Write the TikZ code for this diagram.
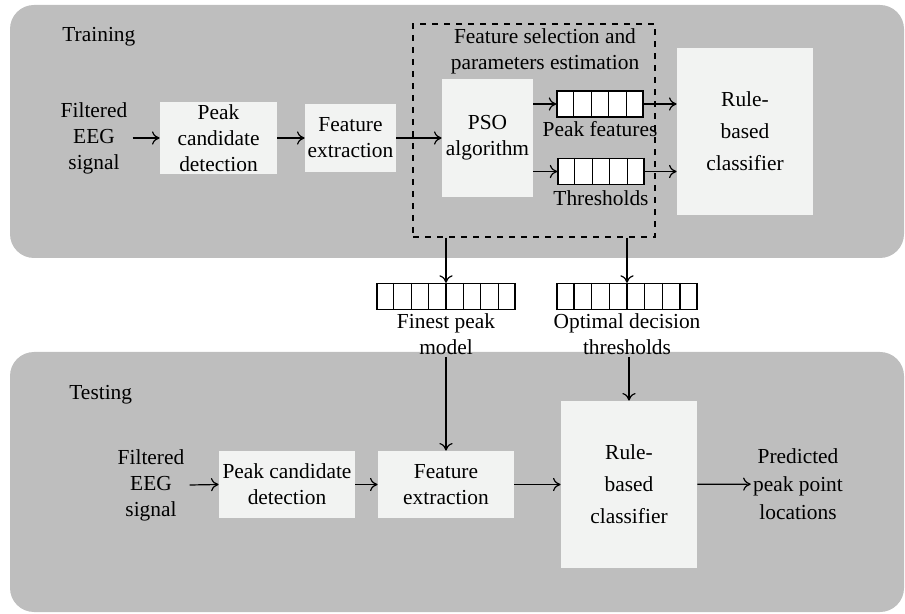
\documentclass[tikz,border=0pt]{standalone}
\usepackage{fontspec}
\setmainfont{Liberation Serif}
\usepackage{tikz}
\usetikzlibrary{positioning,calc,arrows.meta}
\definecolor{panelgray}{RGB}{190,190,190}
\definecolor{boxgray}{RGB}{242,243,242}

\begin{document}
\begin{tikzpicture}[x=0.5pt,y=-0.5pt,
   font=\fontsize{10.7}{13}\selectfont,
   block/.style={fill=boxgray,draw=none,align=center,inner sep=1pt},
   txt/.style={align=center,inner sep=1pt},
   reg/.style={draw,fill=white,line width=0.6pt,inner sep=0pt,minimum height=13pt},
   arr/.style={-{Computer Modern Rightarrow[length=3.8pt,width=6.6pt,line width=0.6pt]},line width=0.6pt}]
   \useasboundingbox (0,0) rectangle (905,614);
   % Panels
   \fill[panelgray,rounded corners=12pt] (10,5) rectangle (904,258);
   \fill[panelgray,rounded corners=12pt] (10,352) rectangle (904,612);
   \node[txt,anchor=west] (train) at (60,37) {Training};
   \node[txt,anchor=west] (test) at (67,395) {Testing};
   % Training
   \node[txt] (in1) at (94,138) {Filtered\\EEG\\signal};
   \node[block,minimum width=58.5pt,minimum height=34pt] (pcd1) at (218.5,138) {Peak\\candidate\\detection};
   \node[block,minimum width=45.5pt,minimum height=34pt] (fe1) at (350.5,138) {Feature\\extraction};
   \node[draw,dashed,line width=0.55pt,minimum width=121pt,minimum height=106.5pt] (sel) at (534,130.5) {};
   \node[txt] (sellab) at (545,51) {Feature selection and\\parameters estimation};
   \node[block,minimum width=45.5pt,minimum height=59pt] (pso) at (487.5,138) {PSO\\algorithm};
   \node[reg,minimum width=43pt] (pf) at (600,104) {};
   \node[reg,minimum width=43pt] (th) at (601,171.5) {};
   \node[txt,below=0.5pt of pf] (pflab) {Peak features};
   \node[txt,below=1.5pt of th] (thlab) {Thresholds};
   \node[block,minimum width=68pt,minimum height=83.5pt] (rbc1) at (745,131.5) {Rule-\\[3pt]based\\[3pt]classifier};
   % Models
   \node[reg,minimum width=69pt] (fpm) at (446,296.5) {};
   \node[reg,minimum width=70pt] (odt) at (627,296.5) {};
   \node[txt,below=0.5pt of fpm] (fpmlab) {Finest peak\\model};
   \node[txt,below=0.5pt of odt] (odtlab) {Optimal decision\\thresholds};
   % Testing
   \node[txt] (in2) at (151,485) {Filtered\\EEG\\signal};
   \node[block,minimum width=68pt,minimum height=33.5pt] (pcd2) at (287,484.5) {Peak candidate\\detection};
   \node[block,minimum width=68pt,minimum height=33.5pt] (fe2) at (446,484.5) {Feature\\extraction};
   \node[block,minimum width=68pt,minimum height=83.5pt] (rbc2) at (629,484.5) {Rule-\\[3pt]based\\[3pt]classifier};
   \node[txt] (out) at (798,484) {Predicted\\[1pt]peak point\\[1pt]locations};
   % Register cells
   \foreach \r/\n in {pf/5,th/5,fpm/8,odt/8}
     \foreach \i in {1,...,\n}
       \draw[line width=0.6pt] ($(\r.north west)!\i/\n!(\r.north east)$) -- ($(\r.south west)!\i/\n!(\r.south east)$);
   % Arrows
   \draw[arr] (in1.east) ++(3,0) coordinate (a1) -- (pcd1.west);
   \draw[arr] (pcd1) -- (fe1);
   \draw[arr] (fe1) -- (pso);
   \draw[arr] (pf.west -| pso.east) -- (pf.west);
   \draw[arr] (th.west -| pso.east) -- (th.west);
   \draw[arr] (pf.east) -- (pf.east -| rbc1.west);
   \draw[arr] (th.east) -- (th.east -| rbc1.west);
   \draw[arr] (sel.south -| fpm.north) -- (fpm.north);
   \draw[arr] (sel.south -| odt.north) -- (odt.north);
   \draw[arr] (fpmlab.south) -- (fe2.north);
   \draw[arr] (odtlab.south -| rbc2.north) -- (rbc2.north);
   \draw[arr] (in2.east) ++(3,0) coordinate (a2) -- (pcd2.west);
   \draw[arr] (pcd2) -- (fe2);
   \draw[arr] (fe2) -- (rbc2);
   \draw[arr] (rbc2) -- (out);
\end{tikzpicture}
\end{document}
